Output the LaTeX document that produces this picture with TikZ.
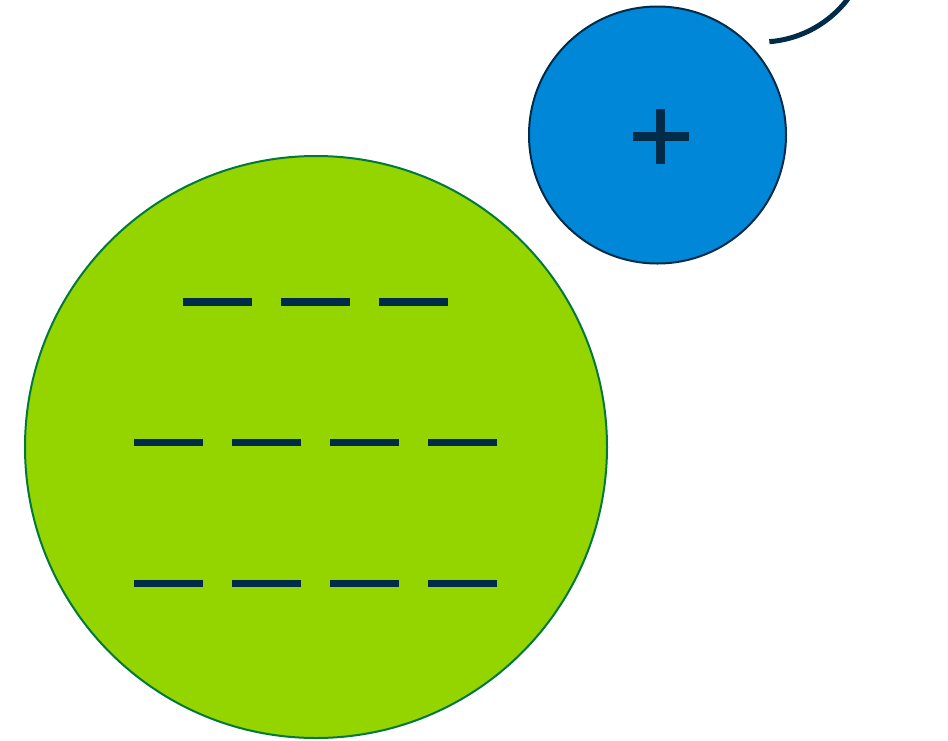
\documentclass[tikz,border=0pt]{standalone}
\definecolor{leaf}{HTML}{94D500}
\definecolor{leafrim}{HTML}{00793A}
\definecolor{sky}{HTML}{0087D7}
\definecolor{navy}{HTML}{002B49}
\begin{document}
\begin{tikzpicture}[x=1pt,y=-1pt,
  ball/.style={circle,draw,line width=2pt,inner sep=0pt},
  charge/.style={navy,line width=7.5pt},
  plusbar/.style={navy,line width=9.5pt}]
\useasboundingbox (0,0) rectangle (948,740);
\clip (0,0) rectangle (948,740);
% large negatively charged body
\node[ball,fill=leaf,draw=leafrim,minimum size=582pt] (neg) at (316,447) {};
% small positively charged body
\node[ball,fill=sky,draw=navy,minimum size=257pt] (pos) at (657.5,135) {};
% minus signs, three rows
\foreach \x in {183,281,379} \draw[charge] (\x,302) -- ++(69,0);
\foreach \y in {442.5,583.5}
  \foreach \x in {134,232,330,428} \draw[charge] (\x,\y) -- ++(69,0);
% plus sign
\draw[plusbar] (632.5,136.5) -- (688.5,136.5);
\draw[plusbar] (660.5,109) -- (660.5,164);
% orbit fragment (y axis points down, so angles run clockwise)
\coordinate (orb) at (761,-67);
\draw[navy,line width=5pt] ([shift={(85.6:109)}]orb) arc[start angle=85.6,end angle=-10,radius=109];
\end{tikzpicture}
\end{document}
